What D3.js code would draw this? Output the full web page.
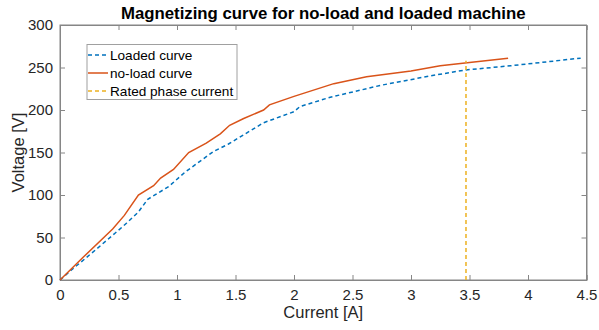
<!DOCTYPE html>
<html>
<head>
<meta charset="utf-8">
<script src="https://cdn.jsdelivr.net/npm/d3@7.9.0/dist/d3.min.js"></script>
<style>
  body { margin: 0; background: #fff; }
  svg { font-family: "Liberation Sans", Arial, sans-serif; }
</style>
</head>
<body>
<svg width="599" height="330"></svg>
<script>
// data
const loadedCurrent = [0, 0.1, 0.3, 0.47, 0.57, 0.67, 0.75, 0.93, 1.07, 1.31, 1.44, 1.62, 1.74, 2.0, 2.05, 2.31, 2.74, 3.16, 3.46, 3.85, 4.45];
const loadedVoltage = [0, 12, 35, 55, 67, 80, 95, 110, 127, 151, 160, 175, 185, 198, 204, 215, 229, 240, 247, 252, 261];

const noLoadCurrent = [0, 0.2, 0.45, 0.55, 0.67, 0.8, 0.86, 0.97, 1.1, 1.25, 1.37, 1.45, 1.57, 1.74, 1.79, 2.0, 2.34, 2.62, 3.0, 3.25, 3.5, 3.83];
const noLoadVoltage = [0, 27, 60, 76, 100, 111, 120, 130, 150, 161, 172, 182, 190, 200, 206, 216, 231, 239, 246, 252, 256, 261];

const ratedCurrent = 3.47;
const ratedVoltage = [0, 258];

const xTicks = [0, 0.5, 1, 1.5, 2, 2.5, 3, 3.5, 4, 4.5];
const yTicks = [0, 50, 100, 150, 200, 250, 300];

const legendLabels = ['Loaded curve', 'no-load curve', 'Rated phase current'];
const colors = ['#0072BD', '#D95319', '#EDB120'];

const svg = d3.select('svg');
const m = { left: 60, right: 586.5, top: 25, bottom: 280 };

let x = d3.scaleLinear().domain([0, 4.5]).range([m.left, m.right]);
let y = d3.scaleLinear().domain([0, 300]).range([m.bottom, m.top]);

const axisColor = '#868686';
const textColor = '#262626';

// box
svg.append('rect')
  .attr('x', m.left).attr('y', m.top)
  .attr('width', m.right - m.left).attr('height', m.bottom - m.top)
  .attr('fill', 'none').attr('stroke', axisColor).attr('stroke-width', 1);

// axes with inward ticks
let xAxis = svg.append('g').attr('transform', `translate(0,${m.bottom})`)
  .call(d3.axisBottom(x).tickValues(xTicks).tickSize(-5).tickPadding(9).tickFormat(d3.format('')));
let xTop = svg.append('g').attr('transform', `translate(0,${m.top})`)
  .call(d3.axisTop(x).tickValues(xTicks).tickSize(-5).tickFormat(''));
let yAxis = svg.append('g').attr('transform', `translate(${m.left},0)`)
  .call(d3.axisLeft(y).tickValues(yTicks).tickSize(-5).tickPadding(7));
let yRight = svg.append('g').attr('transform', `translate(${m.right},0)`)
  .call(d3.axisRight(y).tickValues(yTicks).tickSize(-5).tickFormat(''));

[xAxis, xTop, yAxis, yRight].forEach(g => {
  g.select('.domain').attr('stroke', axisColor);
  g.selectAll('.tick line').attr('stroke', axisColor);
  g.selectAll('.tick text')
    .attr('fill', textColor)
    .style('font-size', '15px')
    .style('font-family', '"Liberation Sans", Arial, sans-serif');
});

// curves
let line = d3.line().x(d => x(d[0])).y(d => y(d[1]));

let loaded = loadedCurrent.map((c, i) => [c, loadedVoltage[i]]);
let noLoad = noLoadCurrent.map((c, i) => [c, noLoadVoltage[i]]);

svg.append('path')
  .attr('d', line(loaded))
  .attr('fill', 'none').attr('stroke', colors[0])
  .attr('stroke-width', 1.5).attr('stroke-dasharray', '4,3');

svg.append('path')
  .attr('d', line(noLoad))
  .attr('fill', 'none').attr('stroke', colors[1])
  .attr('stroke-width', 1.5);

svg.append('path')
  .attr('d', line(ratedVoltage.map(v => [ratedCurrent, v])))
  .attr('fill', 'none').attr('stroke', colors[2])
  .attr('stroke-width', 1.5).attr('stroke-dasharray', '4,3');

// title and labels
svg.append('text')
  .attr('x', (m.left + m.right) / 2).attr('y', 19)
  .attr('text-anchor', 'middle')
  .attr('font-weight', 'bold').attr('font-size', 16.8)
  .attr('fill', '#000')
  .text('Magnetizing curve for no-load and loaded machine');

svg.append('text')
  .attr('x', (m.left + m.right) / 2).attr('y', 318)
  .attr('text-anchor', 'middle')
  .attr('font-size', 16.5).attr('fill', textColor)
  .text('Current [A]');

svg.append('text')
  .attr('transform', `translate(24,${(m.top + m.bottom) / 2}) rotate(-90)`)
  .attr('text-anchor', 'middle')
  .attr('font-size', 16.5).attr('fill', textColor)
  .text('Voltage [V]');

// legend
let legend = svg.append('g');
legend.append('rect')
  .attr('x', 87).attr('y', 44.5).attr('width', 150).attr('height', 55)
  .attr('fill', '#fff').attr('stroke', '#a0a0a0').attr('stroke-width', 1);

legendLabels.forEach((label, i) => {
  let ly = 55 + i * 18;
  legend.append('line')
    .attr('x1', 88).attr('x2', 108).attr('y1', ly).attr('y2', ly)
    .attr('stroke', colors[i]).attr('stroke-width', 1.5)
    .attr('stroke-dasharray', i === 1 ? null : '4,3');
  legend.append('text')
    .attr('x', 110).attr('y', ly + 5)
    .attr('font-size', 13.6).attr('fill', '#000')
    .text(label);
});
</script>
</body>
</html>
